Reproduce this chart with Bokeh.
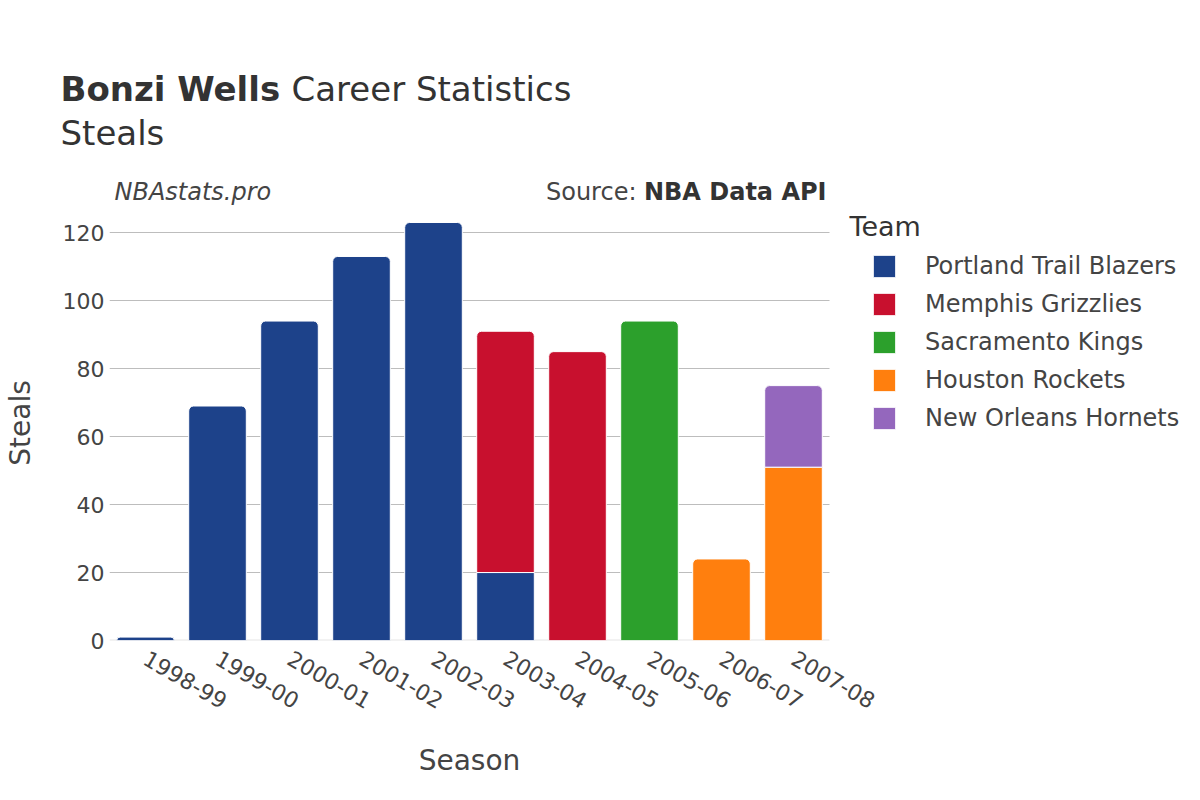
from math import pi
from bokeh.plotting import figure
from bokeh.models import (Range1d, Legend, LegendItem, FixedTicker, Label,
                          BoxAnnotation)
from bokeh.core.properties import value
from bokeh.embed import file_html
from bokeh.resources import INLINE

# ---------------- data ----------------
seasons = ["1998-99", "1999-00", "2000-01", "2001-02", "2002-03",
           "2003-04", "2004-05", "2005-06", "2006-07", "2007-08"]
teams = ["Portland Trail Blazers", "Memphis Grizzlies", "Sacramento Kings",
         "Houston Rockets", "New Orleans Hornets"]
team_colors = ["#1d428a", "#c8102e", "#2ca02c", "#ff7f0e", "#9467bd"]
portland = [1, 69, 94, 113, 123, 20, 0, 0, 0, 0]
memphis = [0, 0, 0, 0, 0, 71, 85, 0, 0, 0]
sacramento = [0, 0, 0, 0, 0, 0, 0, 94, 0, 0]
houston = [0, 0, 0, 0, 0, 0, 0, 0, 24, 51]
new_orleans = [0, 0, 0, 0, 0, 0, 0, 0, 0, 24]
y_ticks = [0, 20, 40, 60, 80, 100, 120]

series = [portland, memphis, sacramento, houston, new_orleans]
n = len(seasons)
xpos = [i + 0.5 for i in range(n)]

FONT = "DejaVu Sans"
TXT = "#444444"
DARK = "#333333"
W = 1200
HEAD_H = 205
MAIN_H = 535
FOOT_H = 60
LEFT, BOTTOM = 109, 100
PX_PER_CAT = 72.0

# ---------------- header (titles) ----------------
head = figure(width=W, height=HEAD_H, x_range=Range1d(0, W), y_range=Range1d(HEAD_H, 0),
              output_backend="svg", toolbar_location=None, min_border=0,
              x_axis_location=None, y_axis_location=None, outline_line_color=None)
head.xgrid.visible = False
head.ygrid.visible = False


def ftext(fig, t, x, y, size, style="normal", align="left", color=DARK):
    fig.text(x=[x], y=[y], text=[t], text_font=value(FONT), text_font_size=size,
             text_font_style=style, text_align=align, text_baseline="middle",
             text_color=color)


ftext(head, "Bonzi Wells", 60, 88, "34px", "bold")
ftext(head, "Career Statistics", 291, 88, "34px")
ftext(head, "Steals", 60, 132, "34px")
ftext(head, "NBAstats.pro", 114, 191, "24px", "italic", color=TXT)
ftext(head, "Source:", 636, 191, "24px", align="right", color=TXT)
ftext(head, "NBA Data API", 826, 191, "24px", "bold", align="right", color=DARK)

# ---------------- main chart ----------------
frame_w = W - LEFT
frame_bottom_page = HEAD_H + MAIN_H - BOTTOM
p = figure(width=W, height=MAIN_H, x_range=Range1d(0, frame_w / PX_PER_CAT),
           y_range=Range1d(0, 128), output_backend="svg", toolbar_location=None,
           min_border_left=LEFT, min_border_right=0, min_border_top=0,
           min_border_bottom=BOTTOM, outline_line_color=None)
p.extra_x_ranges = {"page": Range1d(LEFT, W)}
p.extra_y_ranges = {"page": Range1d(frame_bottom_page, HEAD_H)}

p.xgrid.grid_line_color = None
p.ygrid.grid_line_color = "#bdbdbd"
p.ygrid.grid_line_width = 1
p.yaxis.ticker = FixedTicker(ticks=y_ticks)
p.xaxis.ticker = FixedTicker(ticks=xpos)
p.xaxis.major_label_overrides = {x: s for x, s in zip(xpos, seasons)}
for ax in (p.xaxis[0], p.yaxis[0]):
    ax.axis_line_color = None
    ax.major_tick_line_color = None
    ax.minor_tick_line_color = None
    ax.major_tick_out = 0
    ax.minor_tick_out = 0
    ax.major_tick_in = 0
    ax.minor_tick_in = 0
    ax.major_label_text_font = FONT
    ax.major_label_text_font_size = "22px"
    ax.major_label_text_color = TXT
    ax.axis_label_text_font = FONT
    ax.axis_label_text_font_size = "28px"
    ax.axis_label_text_font_style = "normal"
    ax.axis_label_text_color = TXT
p.yaxis.major_label_standoff = 5
p.xaxis.major_label_standoff = 16
p.xaxis.major_label_orientation = -pi / 6
p.yaxis.axis_label = "Steals"
p.yaxis.axis_label_standoff = 23

# white mask so that grid lines stop at the right edge of the plotting area
p.add_layout(BoxAnnotation(left=n, fill_color="white", fill_alpha=1,
                           line_color=None, level="glyph"))
# light zero line across the categories
p.segment(x0=[0], x1=[n], y0=[0], y1=[0], line_color="#e6e6e6", line_width=2)

bottoms = [0] * n
legend_items = []
for ti, (name, vals, col) in enumerate(zip(teams, series, team_colors)):
    top_x, top_b, top_t = [], [], []
    mid_x, mid_b, mid_t = [], [], []
    for si, v in enumerate(vals):
        if v <= 0:
            continue
        above = sum(s[si] for s in series[ti + 1:])
        if above > 0:
            mid_x.append(xpos[si]); mid_b.append(bottoms[si]); mid_t.append(bottoms[si] + v)
        else:
            top_x.append(xpos[si]); top_b.append(bottoms[si]); top_t.append(bottoms[si] + v)
        bottoms[si] += v
    rs = []
    if top_x:
        rs.append(p.vbar(x=top_x, bottom=top_b, top=top_t, width=0.8, fill_color=col,
                         line_color="white", line_width=1, border_radius=(5, 5, 0, 0)))
    if mid_x:
        rs.append(p.vbar(x=mid_x, bottom=mid_b, top=mid_t, width=0.8, fill_color=col,
                         line_color="white", line_width=1))
    legend_items.append(LegendItem(label=name, renderers=[rs[0]]))

legend = Legend(items=legend_items, location=(761, 207), padding=0, margin=0,
                border_line_color=None, background_fill_alpha=0,
                label_text_font=FONT, label_text_font_size="24px",
                label_text_color=TXT, glyph_width=28, glyph_height=28,
                label_height=30, spacing=8, label_standoff=27)
p.add_layout(legend)
p.add_layout(Label(text="Team", x=849, y=226, x_range_name="page", y_range_name="page",
                   text_font=FONT, text_font_size="27px", text_color=DARK,
                   text_baseline="middle", text_align="left"))

# ---------------- footer (x-axis title) ----------------
foot_top = HEAD_H + MAIN_H
foot = figure(width=W, height=FOOT_H, x_range=Range1d(0, W),
              y_range=Range1d(foot_top + FOOT_H, foot_top),
              output_backend="svg", toolbar_location=None, min_border=0,
              x_axis_location=None, y_axis_location=None, outline_line_color=None)
foot.xgrid.visible = False
foot.ygrid.visible = False
ftext(foot, "Season", 469, 760, "28px", align="center", color=TXT)

open("out.html", "w").write(file_html([head, p, foot], INLINE))
